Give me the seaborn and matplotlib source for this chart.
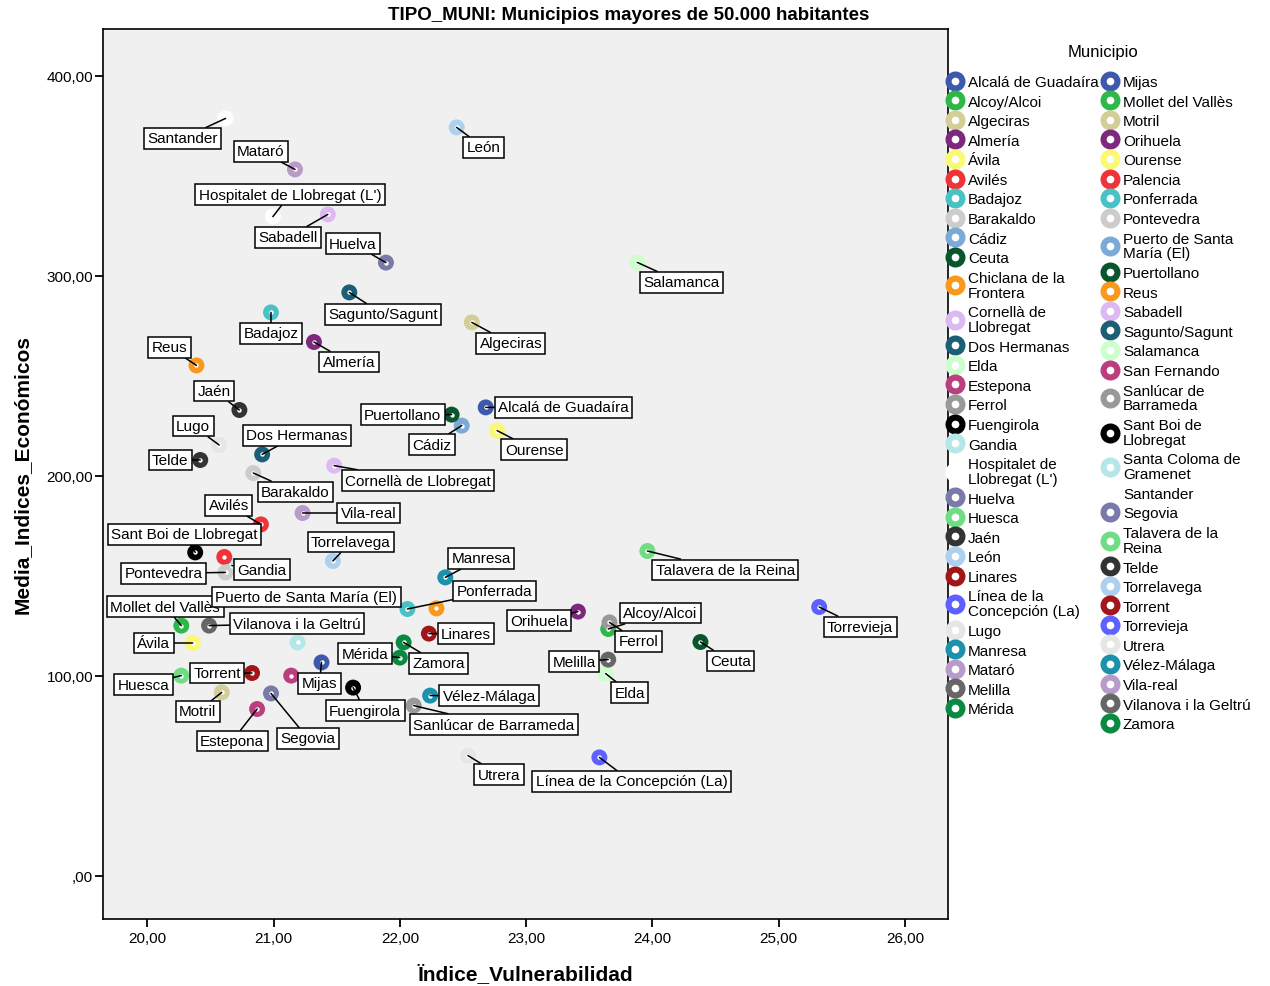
import pandas as pd
import seaborn as sns
import matplotlib.pyplot as plt
from matplotlib.lines import Line2D
from matplotlib.ticker import FuncFormatter


# Municipios (legend order)
municipios = [
    "Alcalá de Guadaíra", "Alcoy/Alcoi", "Algeciras", "Almería", "Ávila", "Avilés",
    "Badajoz", "Barakaldo", "Cádiz", "Ceuta", "Chiclana de la Frontera",
    "Cornellà de Llobregat", "Dos Hermanas", "Elda", "Estepona", "Ferrol", "Fuengirola",
    "Gandia", "Hospitalet de Llobregat (L')", "Huelva", "Huesca", "Jaén", "León",
    "Linares", "Línea de la Concepción (La)", "Lugo", "Manresa", "Mataró", "Melilla",
    "Mérida",
    "Mijas", "Mollet del Vallès", "Motril", "Orihuela", "Ourense", "Palencia",
    "Ponferrada", "Pontevedra", "Puerto de Santa María (El)", "Puertollano", "Reus",
    "Sabadell", "Sagunto/Sagunt", "Salamanca", "San Fernando", "Sanlúcar de Barrameda",
    "Sant Boi de Llobregat", "Santa Coloma de Gramenet", "Santander", "Segovia",
    "Talavera de la Reina", "Telde", "Torrelavega", "Torrent", "Torrevieja", "Utrera",
    "Vélez-Málaga", "Vila-real", "Vilanova i la Geltrú", "Zamora",
]

indice_vulnerabilidad = [
    22.68, 23.65, 22.57, 21.32, 20.36, 20.90, 20.98, 20.84, 22.49, 24.38, 22.29,
    21.48, 20.91, 23.63, 20.87, 23.66, 21.63, 20.67, 20.995, 21.89, 20.27, 20.73,
    22.45, 22.23, 23.58, 20.57, 22.36, 21.17, 23.65, 22.00,
    21.38, 20.27, 20.59, 23.41, 22.77, 20.61, 22.06, 20.62, 21.26, 22.41, 20.39,
    21.43, 21.60, 23.88, 21.14, 22.11, 20.38, 21.19, 20.62, 20.98, 23.96, 20.42,
    21.47, 20.83, 25.32, 22.54, 22.24, 21.23, 20.49, 22.03,
]

media_indices = [
    234.3, 123.5, 276.8, 267.0, 116.5, 175.8, 281.8, 201.5, 225.2, 117.0, 133.8,
    205.2, 210.8, 101.2, 83.5, 126.8, 94.2, 155.2, 329.7, 306.7, 100.2, 233.0,
    374.3, 121.2, 59.3, 215.5, 149.3, 353.3, 108.2, 109.2,
    106.8, 125.2, 91.8, 132.2, 222.7, 159.5, 133.5, 151.8, 139.5, 230.7, 255.3,
    330.8, 291.8, 306.8, 100.2, 85.2, 161.8, 116.8, 378.8, 91.3, 162.5, 208.0,
    157.5, 101.5, 134.5, 60.2, 90.2, 181.5, 125.2, 116.8,
]

# legend text as shown (wrapped names)
legend_text = {
    "Chiclana de la Frontera": "Chiclana de la\nFrontera",
    "Cornellà de Llobregat": "Cornellà de\nLlobregat",
    "Hospitalet de Llobregat (L')": "Hospitalet de\nLlobregat (L')",
    "Línea de la Concepción (La)": "Línea de la\nConcepción (La)",
    "Puerto de Santa María (El)": "Puerto de Santa\nMaría (El)",
    "Sanlúcar de Barrameda": "Sanlúcar de\nBarrameda",
    "Sant Boi de Llobregat": "Sant Boi de\nLlobregat",
    "Santa Coloma de Gramenet": "Santa Coloma de\nGramenet",
    "Talavera de la Reina": "Talavera de la\nReina",
}

# label box offsets in pixels (dx, dy) from the point; None = label hidden
label_offsets = {
    "Alcalá de Guadaíra": (78, 0), "Alcoy/Alcoi": (52, 16), "Algeciras": (39, -21),
    "Almería": (35, -20), "Ávila": (-39, 0), "Avilés": (-32, 19), "Badajoz": (0, -21),
    "Barakaldo": (42, -19), "Cádiz": (-30, -19), "Ceuta": (30, -19),
    "Cornellà de Llobregat": (84, -15), "Dos Hermanas": (35, 19), "Elda": (24, -19),
    "Estepona": (-25, -32), "Ferrol": (29, -19), "Fuengirola": (12, -23),
    "Gandia": (30, -4), "Hospitalet de Llobregat (L')": (17, 22), "Huelva": (-33, 19),
    "Huesca": (-38, -9), "Jaén": (-25, 19), "León": (27, -20), "Linares": (37, 0),
    "Línea de la Concepción (La)": (32, -24), "Lugo": (-26, 19), "Manresa": (36, 19),
    "Mataró": (-34, 18), "Melilla": (-34, -2), "Mérida": (-35, 4), "Mijas": (-2, -21),
    "Mollet del Vallès": (-16, 19), "Motril": (-24, -19), "Orihuela": (-39, -9),
    "Ourense": (37, -19), "Ponferrada": (87, 18), "Pontevedra": (-62, -1),
    "Puerto de Santa María (El)": (0, 0), "Puertollano": (-49, 0), "Reus": (-27, 18),
    "Sabadell": (-40, -23), "Sagunto/Sagunt": (34, -22), "Salamanca": (44, -20),
    "Sanlúcar de Barrameda": (80, -19), "Sant Boi de Llobregat": (-11, 18),
    "Santander": (-43, -20), "Segovia": (37, -45), "Talavera de la Reina": (78, -19),
    "Telde": (-30, 0), "Torrelavega": (18, 19), "Torrent": (-35, 0),
    "Torrevieja": (41, -20), "Utrera": (31, -19), "Vélez-Málaga": (59, 0),
    "Vila-real": (66, 0), "Vilanova i la Geltrú": (88, 2), "Zamora": (35, -21),
}

base_colors = [
    "#3e58ac", "#2eb848", "#d3ce97", "#7c287d", "#fbf873", "#ef3338", "#48c2c5",
    "#cccccc", "#7aaad5", "#0a562c", "#f8981d", "#ddb9f1", "#1a5f76", "#ccffcc",
    "#bb3f7f", "#999999", "#000000", "#b6e7e8", "#ffffff", "#7a79a7", "#70dc84",
    "#333333", "#acd0ee", "#a21619", "#5d61ff", "#e6e6e6", "#1b91ac", "#b89bc9",
    "#666666", "#0a8a41",
]
palette = dict(zip(municipios, base_colors * 2))

df = pd.DataFrame({
    "Municipio": municipios,
    "Indice_Vulnerabilidad": indice_vulnerabilidad,
    "Media_Indices_Economicos": media_indices,
})

sns.set_style("ticks")
plt.rcParams["font.family"] = ["Liberation Sans", "DejaVu Sans"]
plt.rcParams["text.color"] = "black"
plt.rcParams["axes.labelcolor"] = "black"

fig = plt.figure(figsize=(12.7, 9.87), dpi=100)
ax = fig.add_axes([103 / 1270, 1 - 920 / 987, 845 / 1270, 890 / 987])
ax.set_facecolor("#f0f0f0")

sns.scatterplot(data=df, x="Indice_Vulnerabilidad", y="Media_Indices_Economicos",
                hue="Municipio", hue_order=municipios, palette=palette,
                s=132, linewidth=0, legend=False, ax=ax, zorder=3)
sns.scatterplot(data=df, x="Indice_Vulnerabilidad", y="Media_Indices_Economicos",
                color="white", s=10, linewidth=0, legend=False, ax=ax, zorder=4)

for name, xv, yv in zip(municipios, indice_vulnerabilidad, media_indices):
    off = label_offsets.get(name)
    if off is None:
        continue
    ax.annotate(name, xy=(xv, yv), xytext=off, textcoords="offset pixels",
                ha="center", va="center", fontsize=11, zorder=5,
                bbox=dict(boxstyle="square,pad=0.22", fc="white", ec="black", lw=1.1),
                arrowprops=dict(arrowstyle="-", color="black", lw=1.1,
                                shrinkA=0, shrinkB=0))

ax.set_xlim(19.65, 26.34)
ax.set_ylim(-21.5, 423.5)
ax.set_xticks([20, 21, 22, 23, 24, 25, 26])
ax.set_yticks([0, 100, 200, 300, 400])


def coma(v, pos):
    s = f"{v:.2f}".replace(".", ",")
    return s[1:] if s.startswith("0,") else s


ax.xaxis.set_major_formatter(FuncFormatter(coma))
ax.yaxis.set_major_formatter(FuncFormatter(coma))
ax.tick_params(direction="out", length=6, width=1.3, labelsize=11, colors="black")
ax.tick_params(axis="y", pad=1)
ax.tick_params(axis="x", pad=3)
for sp in ax.spines.values():
    sp.set_visible(True)
    sp.set_color("black")
    sp.set_linewidth(1.2)

ax.set_xlabel("Ïndice_Vulnerabilidad", fontsize=15, fontweight="bold", labelpad=13)
ax.set_ylabel("Media_Indices_Económicos", fontsize=15, fontweight="bold", labelpad=11)
fig.suptitle("TIPO_MUNI: Municipios mayores de 50.000 habitantes",
             x=0.495, y=1 - 15 / 987, va="center", fontsize=13.5, fontweight="bold")

# legend in two columns
handles = [Line2D([], [], ls="", marker="o", markersize=10, markerfacecolor="white",
                  markeredgecolor=palette[m], markeredgewidth=4.4) for m in municipios]
labels = [legend_text.get(m, m) for m in municipios]
for start, x0 in [(0, 948), (30, 1103)]:
    leg = fig.legend(handles[start:start + 30], labels[start:start + 30],
                     loc="upper left", bbox_to_anchor=(x0 / 1270, 1 - 76 / 987),
                     frameon=False, fontsize=11, borderpad=0, borderaxespad=0,
                     handlelength=0.9, handletextpad=0.4, labelspacing=0.365)
    for t in leg.get_texts():
        t.set_linespacing(1.08)
fig.text(1103 / 1270, 1 - 52 / 987, "Municipio", ha="center", va="center", fontsize=12)

fig.savefig("out.png", dpi=100)
